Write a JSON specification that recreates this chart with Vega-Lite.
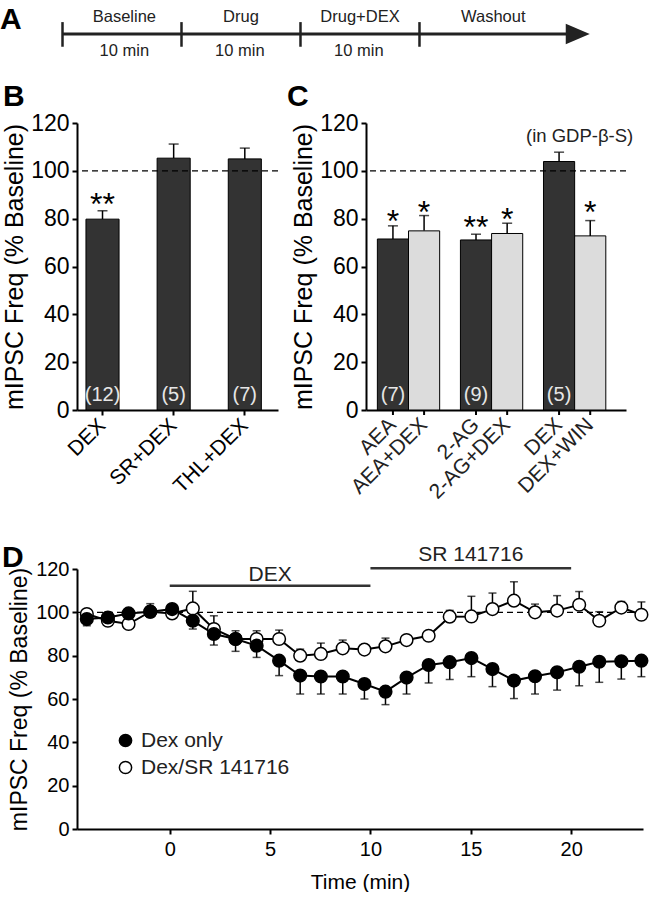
{
  "$schema": "https://vega.github.io/schema/vega-lite/v6.json",
  "padding": {"left": 0, "top": 0, "right": 0, "bottom": 0},
  "background": "white",
  "config": {
    "view": {"stroke": null},
    "font": "Liberation Sans",
    "axis": {"domainColor": "black", "domainWidth": 2, "tickColor": "black", "tickWidth": 2, "labelColor": "black", "titleColor": "black", "grid": false, "titleFontWeight": "normal", "labelFont": "Liberation Sans", "titleFont": "Liberation Sans"},
    "title": {"font": "Liberation Sans", "fontWeight": "bold", "fontSize": 30, "anchor": "start", "frame": "group", "baseline": "alphabetic", "color": "black"},
    "legend": {"labelFont": "Liberation Sans"}
  },
  "datasets": {
    "ts": [
      {"t": -4.13, "s": "Dex/SR 141716", "v": 99.2, "e": 100.5},
      {"t": -3.08, "s": "Dex/SR 141716", "v": 96.1, "e": 100.0},
      {"t": -2.05, "s": "Dex/SR 141716", "v": 94.6, "e": 97.0},
      {"t": -0.97, "s": "Dex/SR 141716", "v": 100.3, "e": 104.0},
      {"t": 0.12, "s": "Dex/SR 141716", "v": 99.5, "e": 101.0},
      {"t": 1.15, "s": "Dex/SR 141716", "v": 101.8, "e": 109.7},
      {"t": 2.2, "s": "Dex/SR 141716", "v": 92.3, "e": 98.4},
      {"t": 3.28, "s": "Dex/SR 141716", "v": 87.7, "e": 91.5},
      {"t": 4.33, "s": "Dex/SR 141716", "v": 87.7, "e": 91.5},
      {"t": 5.45, "s": "Dex/SR 141716", "v": 87.7, "e": 91.8},
      {"t": 6.5, "s": "Dex/SR 141716", "v": 80.0, "e": 83.0},
      {"t": 7.53, "s": "Dex/SR 141716", "v": 80.8, "e": 85.8},
      {"t": 8.62, "s": "Dex/SR 141716", "v": 83.4, "e": 87.2},
      {"t": 9.7, "s": "Dex/SR 141716", "v": 82.8, "e": 84.6},
      {"t": 10.75, "s": "Dex/SR 141716", "v": 84.3, "e": 88.1},
      {"t": 11.8, "s": "Dex/SR 141716", "v": 87.2, "e": 89.2},
      {"t": 12.9, "s": "Dex/SR 141716", "v": 89.2, "e": 90.5},
      {"t": 13.95, "s": "Dex/SR 141716", "v": 98.0, "e": 100.9},
      {"t": 15.03, "s": "Dex/SR 141716", "v": 98.1, "e": 107.4},
      {"t": 16.08, "s": "Dex/SR 141716", "v": 101.5, "e": 108.9},
      {"t": 17.15, "s": "Dex/SR 141716", "v": 105.4, "e": 114.1},
      {"t": 18.2, "s": "Dex/SR 141716", "v": 100.0, "e": 103.8},
      {"t": 19.3, "s": "Dex/SR 141716", "v": 100.8, "e": 107.7},
      {"t": 20.4, "s": "Dex/SR 141716", "v": 103.5, "e": 109.6},
      {"t": 21.4, "s": "Dex/SR 141716", "v": 96.1, "e": 100.3},
      {"t": 22.5, "s": "Dex/SR 141716", "v": 102.2, "e": 105.0},
      {"t": 23.5, "s": "Dex/SR 141716", "v": 98.9, "e": 104.8},
      {"t": -4.13, "s": "Dex only", "v": 96.9, "e": 93.8},
      {"t": -3.08, "s": "Dex only", "v": 97.6, "e": 95.5},
      {"t": -2.05, "s": "Dex only", "v": 99.5, "e": 97.0},
      {"t": -0.97, "s": "Dex only", "v": 100.3, "e": 97.7},
      {"t": 0.12, "s": "Dex only", "v": 101.5, "e": 99.5},
      {"t": 1.15, "s": "Dex only", "v": 96.1, "e": 92.3},
      {"t": 2.2, "s": "Dex only", "v": 90.0, "e": 84.9},
      {"t": 3.28, "s": "Dex only", "v": 87.7, "e": 82.0},
      {"t": 4.33, "s": "Dex only", "v": 84.6, "e": 79.2},
      {"t": 5.45, "s": "Dex only", "v": 77.7, "e": 70.8},
      {"t": 6.5, "s": "Dex only", "v": 70.8, "e": 62.3},
      {"t": 7.53, "s": "Dex only", "v": 70.4, "e": 62.3},
      {"t": 8.62, "s": "Dex only", "v": 70.4, "e": 62.3},
      {"t": 9.7, "s": "Dex only", "v": 66.9, "e": 60.0},
      {"t": 10.75, "s": "Dex only", "v": 63.4, "e": 57.4},
      {"t": 11.8, "s": "Dex only", "v": 69.9, "e": 62.3},
      {"t": 12.9, "s": "Dex only", "v": 75.7, "e": 67.4},
      {"t": 13.95, "s": "Dex only", "v": 77.0, "e": 69.0},
      {"t": 15.03, "s": "Dex only", "v": 78.9, "e": 70.3},
      {"t": 16.08, "s": "Dex only", "v": 73.8, "e": 65.7},
      {"t": 17.15, "s": "Dex only", "v": 68.5, "e": 60.2},
      {"t": 18.2, "s": "Dex only", "v": 70.5, "e": 62.3},
      {"t": 19.3, "s": "Dex only", "v": 72.3, "e": 64.1},
      {"t": 20.4, "s": "Dex only", "v": 74.9, "e": 66.1},
      {"t": 21.4, "s": "Dex only", "v": 77.2, "e": 67.7},
      {"t": 22.5, "s": "Dex only", "v": 77.4, "e": 69.2},
      {"t": 23.5, "s": "Dex only", "v": 77.7, "e": 70.3}
    ]
  },
  "spacing": 40,
  "resolve": {"scale": {"fill": "independent"}, "legend": {"fill": "independent"}},
  "vconcat": [
    {
      "spacing": 14,
      "vconcat": [
        {
          "width": 560,
          "height": 68,
          "title": {"text": "A", "dx": -77, "offset": -35},
          "layer": [
            {
              "data": {"values": [{"x": 0, "x2": 43.3, "y": 2}]},
              "mark": {"type": "rule", "color": "#222222", "strokeWidth": 3},
              "encoding": {
                "x": {"field": "x", "type": "quantitative", "scale": {"domain": [1.218, 48.28], "nice": false, "zero": false}, "axis": null},
                "x2": {"field": "x2"},
                "y": {"field": "y", "type": "quantitative", "scale": {"domain": [0, 4], "reverse": true, "nice": false}, "axis": null}
              }
            },
            {
              "data": {"values": [{"x": 0}, {"x": 10}, {"x": 20}, {"x": 30}]},
              "mark": {"type": "rule", "color": "#222222", "strokeWidth": 2.5},
              "encoding": {
                "x": {"field": "x", "type": "quantitative"},
                "y": {"datum": 1.3},
                "y2": {"datum": 2.75}
              }
            },
            {
              "data": {"values": [{"x": 43.3, "y": 2}]},
              "mark": {"type": "point", "shape": "M-1,-0.85L1,0L-1,0.85Z", "filled": true, "color": "#222222", "size": 576, "opacity": 1},
              "encoding": {
                "x": {"field": "x", "type": "quantitative"},
                "y": {"field": "y", "type": "quantitative"}
              }
            },
            {
              "data": {"values": [
                {"x": 5.2, "y": 1, "t": "Baseline"},
                {"x": 15.0, "y": 1, "t": "Drug"},
                {"x": 25.0, "y": 1, "t": "Drug+DEX"},
                {"x": 36.2, "y": 1, "t": "Washout"},
                {"x": 5.2, "y": 3, "t": "10 min"},
                {"x": 14.9, "y": 3, "t": "10 min"},
                {"x": 24.9, "y": 3, "t": "10 min"}
              ]},
              "mark": {"type": "text", "fontSize": 16.5, "color": "#222222", "baseline": "middle"},
              "encoding": {
                "x": {"field": "x", "type": "quantitative"},
                "y": {"field": "y", "type": "quantitative"},
                "text": {"field": "t"}
              }
            }
          ]
        },
        {
          "spacing": 8,
          "hconcat": [
            {
              "width": 201,
              "height": 287,
              "title": {"text": "B", "dx": -74, "offset": 0},
              "data": {"values": [
                {"cond": "DEX", "mean": 79.8, "hi": 83.3, "n": "(12)", "sig": "**", "sy": 85.9},
                {"cond": "SR+DEX", "mean": 105.3, "hi": 111.2, "n": "(5)", "sig": "", "sy": 0},
                {"cond": "THL+DEX", "mean": 105.0, "hi": 109.5, "n": "(7)", "sig": "", "sy": 0}
              ]},
              "layer": [
                {
                  "mark": {"type": "rule", "color": "black", "strokeWidth": 1.5},
                  "encoding": {
                    "x": {"field": "cond", "type": "nominal", "sort": null, "scale": {"paddingInner": 0.535, "paddingOuter": 0.18, "align": 0.35}, "axis": {"title": null, "labelAngle": -45, "labelAlign": "right", "labelBaseline": "middle", "labelFontSize": 21, "tickSize": 5, "labelPadding": 7}},
                    "y": {"field": "mean", "type": "quantitative", "title": "mIPSC Freq (% Baseline)", "scale": {"domain": [0, 120], "nice": false}, "axis": {"values": [0, 20, 40, 60, 80, 100, 120], "labelFontSize": 23, "titleFontSize": 25, "tickSize": 5, "labelPadding": 3, "titlePadding": 3}},
                    "y2": {"field": "hi"}
                  }
                },
                {
                  "mark": {"type": "tick", "color": "black", "thickness": 1.5, "size": 10, "orient": "horizontal"},
                  "encoding": {
                    "x": {"field": "cond", "type": "nominal", "sort": null},
                    "y": {"field": "hi", "type": "quantitative", "title": "mIPSC Freq (% Baseline)"}
                  }
                },
                {
                  "mark": {"type": "bar", "fill": "#333333", "stroke": "black", "strokeWidth": 1},
                  "encoding": {
                    "x": {"field": "cond", "type": "nominal", "sort": null},
                    "y": {"field": "mean", "type": "quantitative", "title": "mIPSC Freq (% Baseline)"}
                  }
                },
                {
                  "mark": {"type": "text", "color": "#e6e6e6", "fontSize": 20, "baseline": "middle"},
                  "encoding": {
                    "x": {"field": "cond", "type": "nominal", "sort": null},
                    "y": {"datum": 6.3},
                    "text": {"field": "n"}
                  }
                },
                {
                  "mark": {"type": "text", "color": "black", "fontSize": 32, "baseline": "middle"},
                  "encoding": {
                    "x": {"field": "cond", "type": "nominal", "sort": null},
                    "y": {"field": "sy", "type": "quantitative", "title": "mIPSC Freq (% Baseline)"},
                    "text": {"field": "sig"}
                  }
                },
                {
                  "data": {"values": [{"ref": 100}]},
                  "mark": {"type": "rule", "color": "black", "strokeWidth": 1.2, "strokeDash": [6, 4]},
                  "encoding": {
                    "y": {"field": "ref", "type": "quantitative", "title": "mIPSC Freq (% Baseline)"}
                  }
                }
              ]
            },
            {
              "width": 260,
              "height": 287,
              "title": {"text": "C", "dx": -79, "offset": 0},
              "data": {"values": [
                {"grp": "AEA", "kind": "dark", "label": "AEA", "mean": 71.5, "hi": 77.0, "n": "(7)", "sig": "*", "sy": 78.8},
                {"grp": "AEA", "kind": "light", "label": "AEA+DEX", "mean": 74.9, "hi": 81.3, "n": "", "sig": "*", "sy": 82.3},
                {"grp": "2-AG", "kind": "dark", "label": "2-AG", "mean": 71.1, "hi": 73.5, "n": "(9)", "sig": "**", "sy": 76.0},
                {"grp": "2-AG", "kind": "light", "label": "2-AG+DEX", "mean": 73.8, "hi": 78.1, "n": "", "sig": "*", "sy": 79.5},
                {"grp": "DEX", "kind": "dark", "label": "DEX", "mean": 103.9, "hi": 107.8, "n": "(5)", "sig": "", "sy": 0},
                {"grp": "DEX", "kind": "light", "label": "DEX+WIN", "mean": 72.8, "hi": 79.2, "n": "", "sig": "*", "sy": 82.3}
              ]},
              "layer": [
                {
                  "mark": {"type": "rule", "color": "black", "strokeWidth": 1.5},
                  "encoding": {
                    "x": {"field": "grp", "type": "nominal", "sort": null, "scale": {"paddingInner": 0.25, "paddingOuter": 0.19, "align": 0.36}, "axis": {"title": null, "labels": false, "ticks": false}},
                    "xOffset": {"field": "kind", "type": "nominal", "sort": ["dark", "light"], "scale": {"paddingInner": 0, "paddingOuter": 0}},
                    "y": {"field": "mean", "type": "quantitative", "title": "mIPSC Freq (% Baseline)", "scale": {"domain": [0, 120], "nice": false}, "axis": {"values": [0, 20, 40, 60, 80, 100, 120], "labelFontSize": 23, "titleFontSize": 25, "tickSize": 5, "labelPadding": 3, "titlePadding": 3}},
                    "y2": {"field": "hi"}
                  }
                },
                {
                  "mark": {"type": "tick", "color": "black", "thickness": 1.5, "size": 10, "orient": "horizontal"},
                  "encoding": {
                    "x": {"field": "grp", "type": "nominal", "sort": null},
                    "xOffset": {"field": "kind", "type": "nominal", "sort": ["dark", "light"]},
                    "y": {"field": "hi", "type": "quantitative", "title": "mIPSC Freq (% Baseline)"}
                  }
                },
                {
                  "mark": {"type": "bar", "stroke": "black", "strokeWidth": 1},
                  "encoding": {
                    "x": {"field": "grp", "type": "nominal", "sort": null},
                    "xOffset": {"field": "kind", "type": "nominal", "sort": ["dark", "light"]},
                    "y": {"field": "mean", "type": "quantitative", "title": "mIPSC Freq (% Baseline)"},
                    "fill": {"condition": {"test": "datum.kind === 'dark'", "value": "#333333"}, "value": "#dcdcdc"}
                  }
                },
                {
                  "mark": {"type": "text", "color": "#e6e6e6", "fontSize": 20, "baseline": "middle"},
                  "encoding": {
                    "x": {"field": "grp", "type": "nominal", "sort": null},
                    "xOffset": {"field": "kind", "type": "nominal", "sort": ["dark", "light"]},
                    "y": {"datum": 6.3},
                    "text": {"field": "n"}
                  }
                },
                {
                  "mark": {"type": "text", "color": "black", "fontSize": 32, "baseline": "middle"},
                  "encoding": {
                    "x": {"field": "grp", "type": "nominal", "sort": null},
                    "xOffset": {"field": "kind", "type": "nominal", "sort": ["dark", "light"]},
                    "y": {"field": "sy", "type": "quantitative", "title": "mIPSC Freq (% Baseline)"},
                    "text": {"field": "sig"}
                  }
                },
                {
                  "mark": {"type": "rule", "color": "black", "strokeWidth": 2},
                  "encoding": {
                    "x": {"field": "grp", "type": "nominal", "sort": null},
                    "xOffset": {"field": "kind", "type": "nominal", "sort": ["dark", "light"]},
                    "y": {"datum": 0},
                    "y2": {"datum": -2.1}
                  }
                },
                {
                  "mark": {"type": "text", "color": "#222222", "fontSize": 21, "angle": -45, "align": "right", "baseline": "middle"},
                  "encoding": {
                    "x": {"field": "grp", "type": "nominal", "sort": null},
                    "xOffset": {"field": "kind", "type": "nominal", "sort": ["dark", "light"]},
                    "y": {"datum": -5},
                    "text": {"field": "label"}
                  }
                },
                {
                  "data": {"values": [{"grp": "DEX", "y": 114.5, "txt": "(in GDP-β-S)"}]},
                  "mark": {"type": "text", "color": "#222222", "fontSize": 18.5, "baseline": "middle", "dx": 5},
                  "encoding": {
                    "x": {"field": "grp", "type": "nominal", "sort": null},
                    "y": {"field": "y", "type": "quantitative", "title": "mIPSC Freq (% Baseline)"},
                    "text": {"field": "txt"}
                  }
                },
                {
                  "data": {"values": [{"ref": 100}]},
                  "mark": {"type": "rule", "color": "black", "strokeWidth": 1.2, "strokeDash": [6, 4]},
                  "encoding": {
                    "y": {"field": "ref", "type": "quantitative", "title": "mIPSC Freq (% Baseline)"}
                  }
                }
              ]
            }
          ]
        }
      ]
    },
    {
      "width": 566,
      "height": 260,
      "title": {"text": "D", "dx": -75, "offset": -29},
      "layer": [
        {
          "data": {"values": [{"ref": 100}]},
          "mark": {"type": "rule", "color": "black", "strokeWidth": 1.2, "strokeDash": [6, 4]},
          "encoding": {
            "y": {"field": "ref", "type": "quantitative", "title": "mIPSC Freq (% Baseline)", "scale": {"domain": [0, 120], "nice": false}, "axis": {"values": [0, 20, 40, 60, 80, 100, 120], "labelFontSize": 20, "titleFontSize": 23, "tickSize": 5, "labelPadding": 3, "titlePadding": 4}}
          }
        },
        {
          "data": {"values": [
            {"s": 0, "e": 10, "y": 112.3, "lx": 5, "ly": 117.2, "label": "DEX"},
            {"s": 10, "e": 20, "y": 120.4, "lx": 15, "ly": 126.3, "label": "SR 141716"}
          ]},
          "layer": [
            {
              "mark": {"type": "rule", "color": "#333333", "strokeWidth": 2.5},
              "encoding": {
                "x": {"field": "s", "type": "quantitative", "title": "Time (min)", "scale": {"domain": [-4.62, 23.58], "nice": false, "zero": false}, "axis": {"values": [0, 5, 10, 15, 20], "labelFontSize": 20, "titleFontSize": 21, "tickSize": 5, "labelPadding": 5, "titlePadding": 12}},
                "x2": {"field": "e"},
                "y": {"field": "y", "type": "quantitative", "title": "mIPSC Freq (% Baseline)"}
              }
            },
            {
              "mark": {"type": "text", "color": "#222222", "fontSize": 21, "baseline": "middle"},
              "encoding": {
                "x": {"field": "lx", "type": "quantitative", "title": "Time (min)"},
                "y": {"field": "ly", "type": "quantitative", "title": "mIPSC Freq (% Baseline)"},
                "text": {"field": "label"}
              }
            }
          ]
        },
        {
          "data": {"name": "ts"},
          "layer": [
            {
              "mark": {"type": "rule", "color": "black", "strokeWidth": 1.5},
              "encoding": {
                "x": {"field": "t", "type": "quantitative", "title": "Time (min)"},
                "y": {"field": "v", "type": "quantitative", "title": "mIPSC Freq (% Baseline)"},
                "y2": {"field": "e"}
              }
            },
            {
              "mark": {"type": "tick", "color": "black", "thickness": 1.5, "size": 8, "orient": "horizontal"},
              "encoding": {
                "x": {"field": "t", "type": "quantitative", "title": "Time (min)"},
                "y": {"field": "e", "type": "quantitative", "title": "mIPSC Freq (% Baseline)"}
              }
            },
            {
              "mark": {"type": "line", "color": "black", "strokeWidth": 2},
              "encoding": {
                "x": {"field": "t", "type": "quantitative", "title": "Time (min)"},
                "y": {"field": "v", "type": "quantitative", "title": "mIPSC Freq (% Baseline)"},
                "detail": {"field": "s", "type": "nominal"}
              }
            },
            {
              "mark": {"type": "point", "filled": true, "stroke": "black", "strokeWidth": 1.5, "size": 160, "opacity": 1},
              "encoding": {
                "x": {"field": "t", "type": "quantitative", "title": "Time (min)"},
                "y": {"field": "v", "type": "quantitative", "title": "mIPSC Freq (% Baseline)"},
                "fill": {"field": "s", "type": "nominal", "scale": {"domain": ["Dex only", "Dex/SR 141716"], "range": ["black", "white"]}, "legend": {"title": null, "orient": "none", "legendX": 38, "legendY": 161, "symbolType": "circle", "symbolSize": 150, "symbolStrokeColor": "black", "symbolStrokeWidth": 1.5, "labelFontSize": 21, "labelColor": "#222222", "rowPadding": 5, "labelOffset": 5}}
              }
            }
          ]
        }
      ]
    }
  ]
}
